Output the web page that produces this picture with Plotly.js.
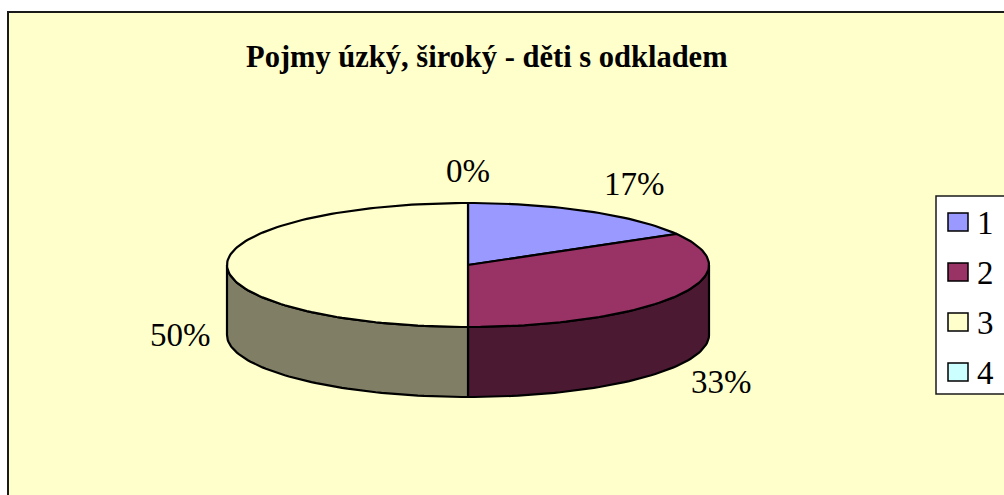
<!DOCTYPE html>
<html>
<head>
<meta charset="utf-8">
<script src="https://cdn.plot.ly/plotly-3.0.1.min.js"></script>
</head>
<body style="margin:0;background:#fff">
<div id="chart"></div>
<script>
// ---- data ----
const titleText = 'Pojmy úzký, široký - děti s odkladem';
const categories = ['1', '2', '3', '4'];
const values = [1, 2, 3, 0];
const topColors = ['#9999FF', '#993366', '#FFFFCC', '#CCFFFF'];
const sideColors = ['#4C4C80', '#4C1933', '#807F66', '#668080'];

// ---- geometry (layout constants, pixel units) ----
const CX = 468, CY = 265, RX = 241, RY = 62, DEPTH = 70;
const FONT = 'Liberation Serif';
const total = values.reduce((a, b) => a + b, 0);

function pt(deg, dy) {
  const r = deg * Math.PI / 180;
  return [CX + RX * Math.sin(r), CY - RY * Math.cos(r) + (dy || 0)];
}
function arc(a, b, dy) {
  const out = [];
  const n = Math.max(2, Math.ceil(Math.abs(b - a) / 1.5));
  for (let k = 0; k <= n; k++) out.push(pt(a + (b - a) * k / n, dy));
  return out;
}

const sideTraces = [], topTraces = [], annotations = [], shapes = [];
let start = 0;
values.forEach((v, i) => {
  const sweep = v / total * 360;
  const a = start, b = start + sweep;
  // side wall (visible front part between 90 and 270 deg)
  const lo = Math.max(a, 90), hi = Math.min(b, 270);
  if (hi > lo) {
    const pts = arc(lo, hi, 0).concat(arc(hi, lo, DEPTH));
    pts.push(pts[0]);
    sideTraces.push({
      type: 'scatter', mode: 'lines', fill: 'toself',
      x: pts.map(p => p[0]), y: pts.map(p => p[1]),
      fillcolor: sideColors[i], line: {color: '#000', width: 2.2},
      hoverinfo: 'skip', showlegend: false
    });
  }
  // top face
  if (sweep > 0) {
    const pts = [[CX, CY]].concat(arc(a, b, 0));
    pts.push([CX, CY]);
    topTraces.push({
      type: 'scatter', mode: 'lines', fill: 'toself',
      x: pts.map(p => p[0]), y: pts.map(p => p[1]),
      fillcolor: topColors[i], line: {color: '#000', width: 2.2},
      name: categories[i], hoverinfo: 'skip', showlegend: false
    });
  }
  // percentage label
  const mid = (a + b) / 2;
  const r = mid * Math.PI / 180;
  const s = Math.sin(r), c = Math.cos(r);
  let lx = CX + (RX + 14) * s + (s > 0.1 && c > 0.1 ? 6 : 0);
  let ly = CY - (RY + 32) * c;
  if (c < 0.05) ly += DEPTH;
  if (Math.abs(c) < 0.05) ly = CY + DEPTH;
  const xa = s > 0.1 ? 'left' : (s < -0.1 ? 'right' : 'center');
  annotations.push({
    x: lx, y: ly, xref: 'x', yref: 'y', xanchor: xa, yanchor: 'middle',
    text: Math.round(v / total * 100) + '%', showarrow: false,
    font: {family: FONT, size: 33, color: '#000'}
  });
  start = b;
});

// chart area background + border
shapes.push({type: 'rect', xref: 'x', yref: 'y', x0: 8, y0: 12, x1: 1012, y1: 505,
  fillcolor: '#FFFFCC', line: {color: '#1a1a1a', width: 2}, layer: 'below'});
// legend box
shapes.push({type: 'rect', xref: 'x', yref: 'y', x0: 936, y0: 196, x1: 1012, y1: 394,
  fillcolor: '#FFFFFF', line: {color: '#1a1a1a', width: 1.5}, layer: 'below'});
categories.forEach((cat, i) => {
  const yc = 222 + 50 * i;
  shapes.push({type: 'rect', xref: 'x', yref: 'y', x0: 948, x1: 968, y0: yc - 9, y1: yc + 9,
    fillcolor: topColors[i], line: {color: '#000', width: 1.5}});
  annotations.push({x: 975, y: yc + 1, xref: 'x', yref: 'y', xanchor: 'left', yanchor: 'middle',
    text: cat, showarrow: false, font: {family: FONT, size: 33, color: '#000'}});
});
// title
annotations.push({x: 487, y: 57, xref: 'x', yref: 'y', xanchor: 'center', yanchor: 'middle',
  text: '<b>' + titleText + '</b>', showarrow: false,
  font: {family: FONT, size: 30.5, color: '#000'}});

const layout = {
  width: 1004, height: 495,
  margin: {l: 0, r: 0, t: 0, b: 0, pad: 0},
  paper_bgcolor: '#FFFFFF', plot_bgcolor: 'rgba(0,0,0,0)',
  font: {family: FONT},
  xaxis: {range: [0, 1004], visible: false, fixedrange: true},
  yaxis: {range: [495, 0], visible: false, fixedrange: true},
  showlegend: false,
  shapes: shapes, annotations: annotations
};
Plotly.newPlot('chart', sideTraces.concat(topTraces), layout, {displayModeBar: false});
</script>
</body>
</html>
